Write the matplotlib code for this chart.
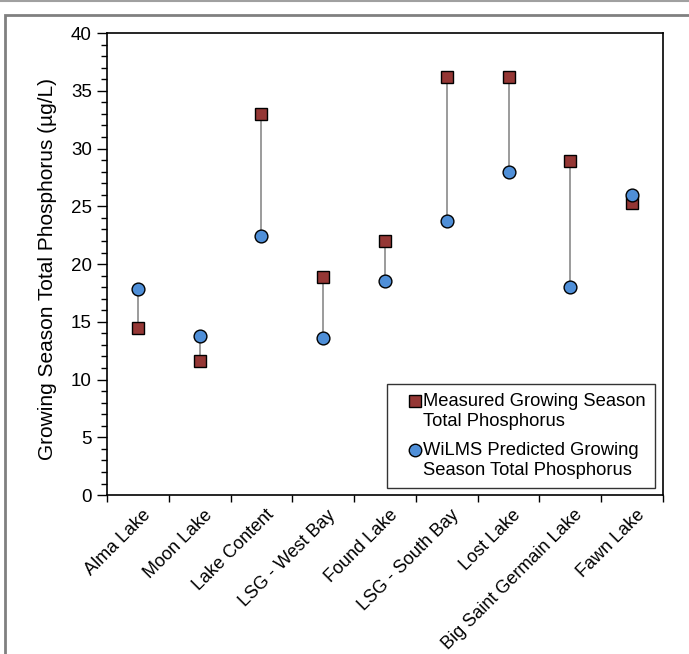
import numpy as np
import matplotlib.pyplot as plt
from matplotlib.patches import Rectangle
from matplotlib.lines import Line2D
from matplotlib.ticker import MultipleLocator

plt.rcParams['font.family'] = ['Liberation Sans', 'DejaVu Sans']

lakes = ["Alma Lake", "Moon Lake", "Lake Content", "LSG - West Bay", "Found Lake",
         "LSG - South Bay", "Lost Lake", "Big Saint Germain Lake", "Fawn Lake"]
measured = [14.5, 11.6, 33.0, 18.9, 22.0, 36.2, 36.2, 28.9, 25.3]
predicted = [17.8, 13.8, 22.4, 13.6, 18.5, 23.7, 28.0, 18.0, 26.0]

red = "#953735"
blue = "#4F8FD8"

fig = plt.figure(figsize=(6.89, 6.54), dpi=100)
ax = fig.add_axes([107 / 689, 0.243, 556 / 689, 0.7065])

x = np.arange(len(lakes))
for i in range(len(lakes)):
    ax.plot([x[i], x[i]], [measured[i], predicted[i]], color="#808080", lw=1.1, zorder=2)
ax.plot(x, measured, ls="none", marker="s", ms=9, mfc=red, mec="black", mew=1, zorder=3)
ax.plot(x, predicted, ls="none", marker="o", ms=9.2, mfc=blue, mec="black", mew=1, zorder=4)

ax.set_xlim(-0.5, len(lakes) - 0.5)
ax.set_ylim(0, 40)
ax.yaxis.set_major_locator(MultipleLocator(5))
ax.yaxis.set_minor_locator(MultipleLocator(1))
ax.tick_params(axis="y", which="major", direction="out", length=7, width=1, labelsize=13.5, pad=4)
ax.tick_params(axis="y", which="minor", direction="out", length=4, width=1)
ax.set_xticks(np.arange(-0.5, len(lakes), 1.0))
ax.set_xticklabels([])
ax.tick_params(axis="x", which="major", direction="out", length=5, width=1)
for i, name in enumerate(lakes):
    ax.text(x[i] + 0.06, -1.0, name, rotation=45, ha="right", va="top",
            rotation_mode="anchor", fontsize=13)
for s in ax.spines.values():
    s.set_linewidth(1.2)
ax.set_ylabel("Growing Season Total Phosphorus (µg/L)", fontsize=15)
ax.yaxis.set_label_coords(-0.09, 0.49)

handles = [Line2D([], [], ls="none", marker="s", ms=9, mfc=red, mec="black", mew=1),
           Line2D([], [], ls="none", marker="o", ms=9, mfc=blue, mec="black", mew=1)]
labels = ["Measured Growing Season\nTotal Phosphorus",
          "WiLMS Predicted Growing\nSeason Total Phosphorus"]
leg = ax.legend(handles, labels, loc="lower right", bbox_to_anchor=(0.9856, 0.015),
                fontsize=13.2, frameon=True, fancybox=False, edgecolor="black",
                handlelength=2.0, handletextpad=-0.55, labelspacing=0.7,
                borderpad=0.5, borderaxespad=0)
leg.get_frame().set_linewidth(1)
# put the legend markers level with the first line of each label
for h in leg.legend_handles:
    h.set_ydata(np.asarray(h.get_ydata()) + 7.5)

# outer frame
fig.add_artist(Rectangle((5 / 689, -0.02), 1.05, 1 - 15 / 654 + 0.02, transform=fig.transFigure,
                         fill=False, edgecolor="#808080", lw=2))
fig.add_artist(Line2D([0, 1], [0.999, 0.999], transform=fig.transFigure, color="#a0a0a0", lw=1.5))

fig.savefig("out.png", dpi=100)
